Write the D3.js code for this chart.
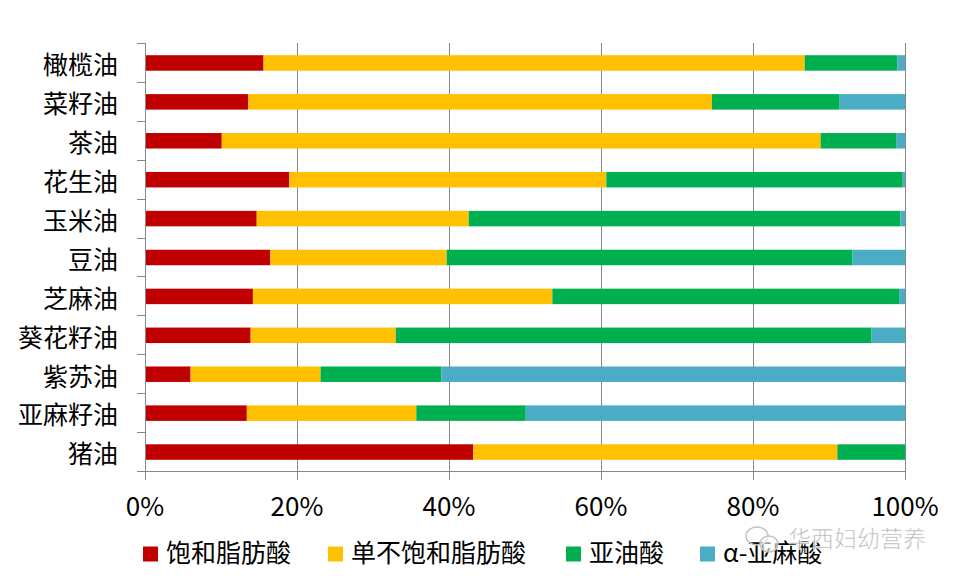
<!DOCTYPE html>
<html>
<head>
<meta charset="utf-8">
<script src="https://cdn.jsdelivr.net/npm/d3@7"></script>
<style>
    body { margin: 0; background: #fff; }
    #chart { width: 955px; height: 582px; }
    text { font-family: "Microsoft YaHei", "Noto Sans CJK SC", sans-serif; fill: #000; }
</style>
</head>
<body>
<div id="chart"></div>
<script>
// oils, top to bottom
const categories = ["橄榄油", "菜籽油", "茶油", "花生油", "玉米油", "豆油", "芝麻油", "葵花籽油", "紫苏油", "亚麻籽油", "猪油"];

// percent of each fatty acid class
const saturated = [15.6, 13.6, 10.1, 19.0, 14.7, 16.5, 14.2, 13.9, 6.0, 13.4, 43.2];
const monounsaturated = [71.2, 61.0, 78.8, 41.7, 27.9, 23.2, 39.4, 19.1, 17.1, 22.3, 47.9];
const linoleic = [12.2, 16.8, 10.0, 39.0, 56.8, 53.4, 45.7, 62.6, 15.9, 14.4, 8.9];
const alphaLinolenic = [1.0, 8.6, 1.1, 0.3, 0.6, 6.9, 0.7, 4.4, 61.0, 49.9, 0.0];

const seriesNames = ["饱和脂肪酸", "单不饱和脂肪酸", "亚油酸", "α-亚麻酸"];
const seriesColors = ["#C00000", "#FFC000", "#00B050", "#4BACC6"];
const xTicks = [0, 0.2, 0.4, 0.6, 0.8, 1.0];


class StackedBarVis {

    constructor(parentElement) {
        this.parentElement = parentElement;
        this.initVis();
    }

    initVis() {
        let vis = this;
        vis.margin = {top: 43, right: 50, bottom: 111, left: 145};
        vis.width = 955 - vis.margin.left - vis.margin.right;
        vis.height = 582 - vis.margin.top - vis.margin.bottom;

        vis.root = d3.select("#" + vis.parentElement).append("svg")
            .attr("width", 955)
            .attr("height", 582);

        vis.svg = vis.root.append("g")
            .attr("transform", `translate(${vis.margin.left}, ${vis.margin.top})`);

        vis.xScale = d3.scaleLinear()
            .domain([0, 1])
            .range([0, vis.width]);

        vis.yScale = d3.scaleBand()
            .domain(categories)
            .range([0, vis.height])
            .paddingInner(0.6)
            .paddingOuter(0.3);

        vis.wrangleData();
    }

    wrangleData() {
        let vis = this;

        vis.rows = categories.map((c, i) => ({
            cat: c,
            s0: saturated[i],
            s1: monounsaturated[i],
            s2: linoleic[i],
            s3: alphaLinolenic[i]
        }));

        vis.stacked = d3.stack()
            .keys(["s0", "s1", "s2", "s3"])
            .offset(d3.stackOffsetExpand)(vis.rows);

        vis.updateVis();
    }

    updateVis() {
        let vis = this;
        let gridColor = "#868686";

        // vertical gridlines
        vis.svg.append("g")
            .attr("class", "grid")
            .selectAll("line")
            .data(xTicks.slice(1))
            .enter()
            .append("line")
            .attr("x1", d => Math.round(vis.xScale(d)) + 0.5)
            .attr("x2", d => Math.round(vis.xScale(d)) + 0.5)
            .attr("y1", 0)
            .attr("y2", vis.height)
            .attr("stroke", gridColor)
            .attr("stroke-width", 1);

        // bars
        let band = vis.yScale.step();
        let barH = 15.5;
        vis.svg.append("g")
            .selectAll("g")
            .data(vis.stacked)
            .enter()
            .append("g")
            .attr("fill", (d, i) => seriesColors[i])
            .selectAll("rect")
            .data(d => d)
            .enter()
            .append("rect")
            .attr("x", d => vis.xScale(d[0]))
            .attr("width", d => vis.xScale(d[1]) - vis.xScale(d[0]))
            .attr("y", d => vis.yScale(d.data.cat) + vis.yScale.bandwidth() / 2 - barH / 2 + 0.5)
            .attr("height", barH);

        // y axis: line + ticks on band edges
        let yAxis = vis.svg.append("g").attr("class", "yAxis");
        yAxis.append("line")
            .attr("x1", 0.5).attr("x2", 0.5)
            .attr("y1", 0).attr("y2", vis.height)
            .attr("stroke", gridColor);
        yAxis.selectAll(".ytick")
            .data(d3.range(categories.length + 1))
            .enter()
            .append("line")
            .attr("class", "ytick")
            .attr("x1", -8).attr("x2", 0.5)
            .attr("y1", i => Math.round(i * band) + 0.5)
            .attr("y2", i => Math.round(i * band) + 0.5)
            .attr("stroke", gridColor);
        yAxis.selectAll("text")
            .data(categories)
            .enter()
            .append("text")
            .attr("x", -27)
            .attr("y", d => vis.yScale(d) + vis.yScale.bandwidth() / 2 + 5)
            .attr("text-anchor", "end")
            .attr("dominant-baseline", "middle")
            .style("font-size", "25px")
            .text(d => d);

        // x axis
        let xAxis = vis.svg.append("g")
            .attr("class", "xAxis")
            .attr("transform", `translate(0, ${vis.height})`);
        xAxis.append("line")
            .attr("x1", 0).attr("x2", vis.width + 0.5)
            .attr("y1", 0.5).attr("y2", 0.5)
            .attr("stroke", gridColor);
        xAxis.selectAll(".xtick")
            .data(xTicks)
            .enter()
            .append("line")
            .attr("class", "xtick")
            .attr("x1", d => Math.round(vis.xScale(d)) + 0.5)
            .attr("x2", d => Math.round(vis.xScale(d)) + 0.5)
            .attr("y1", 0).attr("y2", 9)
            .attr("stroke", gridColor);
        xAxis.selectAll("text")
            .data(xTicks)
            .enter()
            .append("text")
            .attr("x", d => vis.xScale(d))
            .attr("y", 38)
            .attr("text-anchor", "middle")
            .attr("dominant-baseline", "middle")
            .style("font-size", "26px")
            .text(d => d3.format(".0%")(d));

        // legend
        let legendX = [143, 328, 566, 700];
        let legend = vis.root.append("g")
            .attr("class", "legend")
            .attr("transform", "translate(0, 554)");
        let items = legend.selectAll("g")
            .data(seriesNames)
            .enter()
            .append("g")
            .attr("transform", (d, i) => `translate(${legendX[i]}, 0)`);
        items.append("rect")
            .attr("x", 0).attr("y", -7.5)
            .attr("width", 15).attr("height", 15)
            .attr("fill", (d, i) => seriesColors[i]);
        items.append("text")
            .attr("x", 23)
            .attr("y", 1)
            .attr("dominant-baseline", "middle")
            .style("font-size", "25px")
            .text(d => d);

        // watermark (wechat logo + account name)
        let wm = vis.root.append("g").attr("class", "watermark");
        wm.append("ellipse")
            .attr("cx", 757).attr("cy", 536)
            .attr("rx", 11).attr("ry", 9)
            .attr("fill", "none")
            .attr("stroke", "#c4c4c4")
            .attr("stroke-width", 1.5);
        wm.append("ellipse")
            .attr("cx", 769).attr("cy", 544)
            .attr("rx", 9).attr("ry", 8)
            .attr("fill", "rgba(255,255,255,0.6)")
            .attr("stroke", "#c4c4c4")
            .attr("stroke-width", 1.5);
        wm.append("text")
            .attr("x", 788)
            .attr("y", 541)
            .attr("dominant-baseline", "middle")
            .style("font-size", "23px")
            .style("fill", "#a8a8a8")
            .style("fill-opacity", 0.85)
            .style("stroke", "#fff")
            .style("stroke-width", 0.6)
            .text("华西妇幼营养");
    }
}

let myBarVis = new StackedBarVis("chart");
</script>
</body>
</html>
